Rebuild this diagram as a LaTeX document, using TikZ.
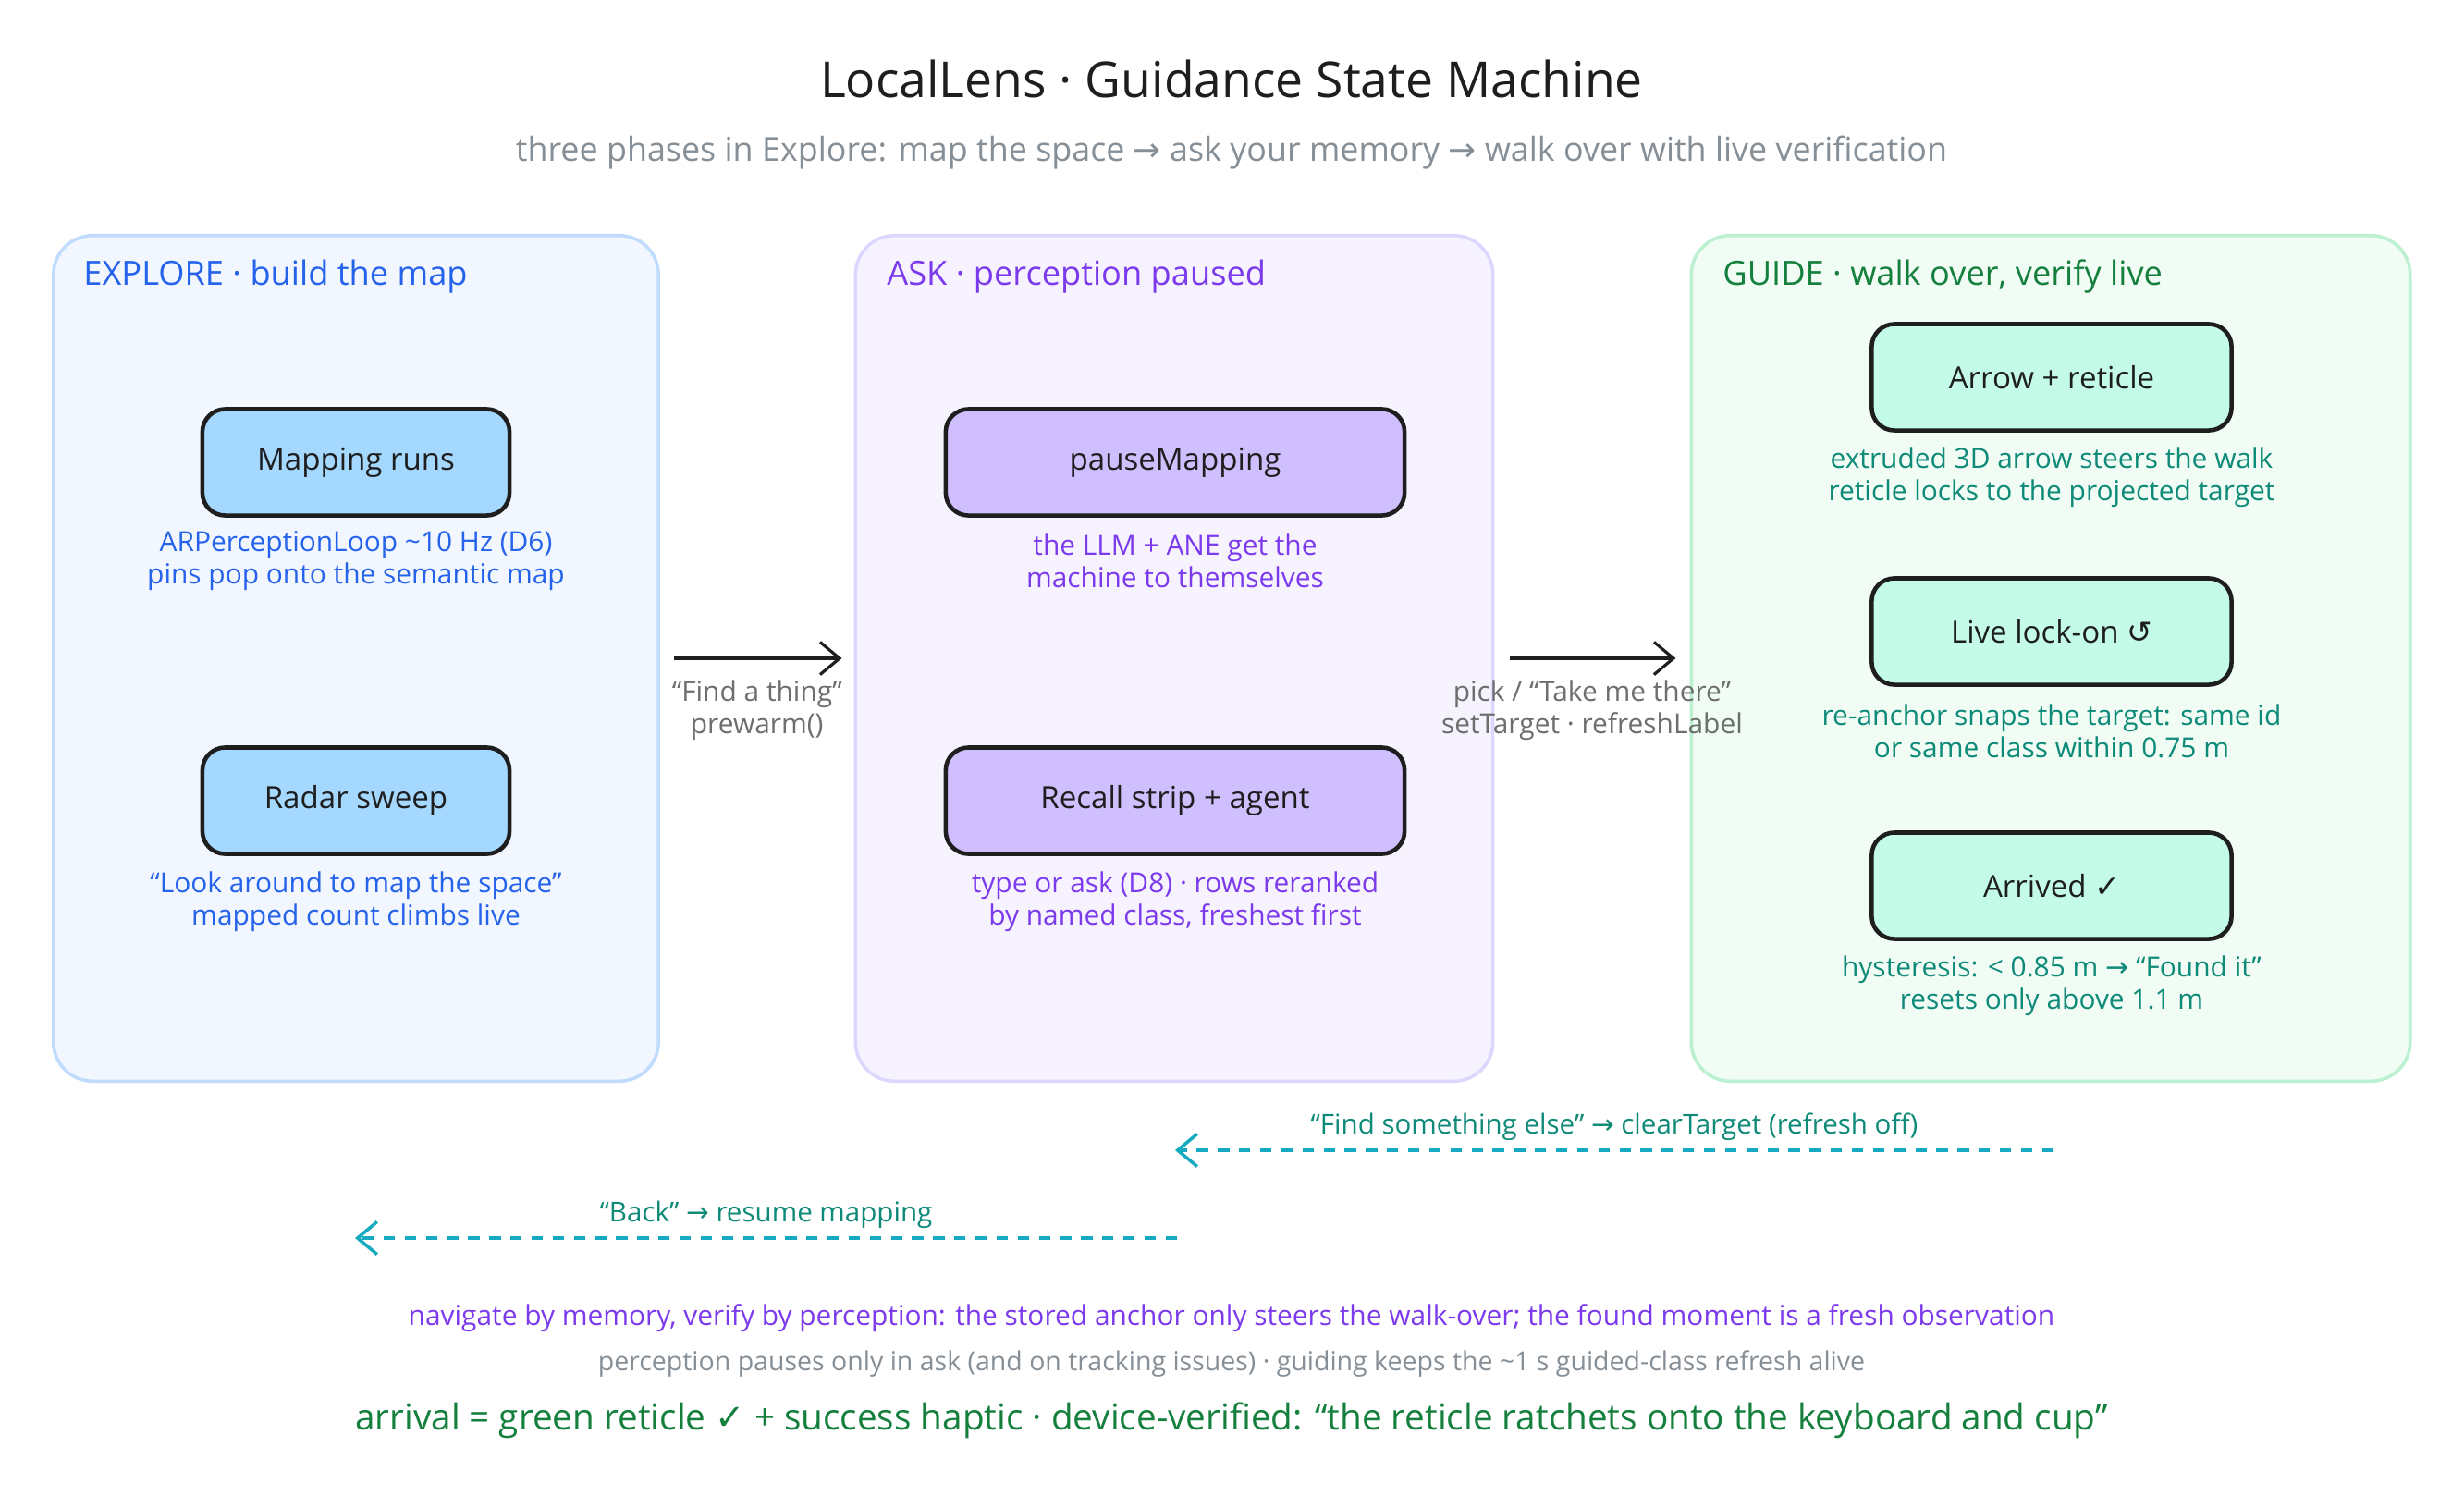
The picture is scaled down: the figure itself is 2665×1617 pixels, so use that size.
\documentclass[tikz,border=0pt]{standalone}
\usepackage{fontspec}
\setmainfont{Open Sans}
\newfontfamily\symf{DejaVu Sans}
\usetikzlibrary{arrows.meta}

\definecolor{ink}{HTML}{1E1E1E}
\definecolor{exFill}{HTML}{F2F6FE}
\definecolor{exLine}{HTML}{BFDBFE}
\definecolor{exText}{HTML}{2563EB}
\definecolor{exNode}{HTML}{A5D8FF}
\definecolor{askFill}{HTML}{F6F3FE}
\definecolor{askLine}{HTML}{DDD6FE}
\definecolor{askText}{HTML}{7C3AED}
\definecolor{askNode}{HTML}{D0BFFF}
\definecolor{guFill}{HTML}{F0FCF4}
\definecolor{guLine}{HTML}{BBF0D0}
\definecolor{guText}{HTML}{15803D}
\definecolor{guNode}{HTML}{C3FAE8}
\definecolor{guNote}{HTML}{0E8A78}
\definecolor{backLine}{HTML}{15AABF}
\definecolor{labGray}{HTML}{6E6E6E}
\definecolor{footGray}{HTML}{868E96}

\tikzset{
  panel/.style={draw=#1, line width=1pt, rounded corners=12pt},
  ptitle/.style={anchor=west, font=\fontsize{10.3}{12}\selectfont},
  state/.style={draw=ink, line width=1.3pt, rounded corners=7pt, text=ink,
    minimum height=1.15cm, font=\fontsize{9.4}{11}\selectfont},
  note/.style={align=center, font=\fontsize{8.5}{10}\selectfont},
  edgelab/.style={align=center, text=labGray, font=\fontsize{8.5}{9.8}\selectfont},
  flow/.style={->, draw=ink, line width=0.9pt},
  back/.style={->, draw=backLine, line width=1pt, dash pattern=on 3.5pt off 3pt},
  backlab/.style={text=guNote, font=\fontsize{8.4}{10}\selectfont}
}

\begin{document}
\begin{tikzpicture}[x=0.01cm, y=-0.01cm, >={Straight Barb[length=6pt,width=10pt]}]
\useasboundingbox[fill=white] (0,0) rectangle (2665,1617);

% Titel
\node[text=ink, font=\fontsize{15.2}{17}\selectfont] (title) at (1332,85) {LocalLens · Guidance State Machine};
\node[text=footGray, font=\fontsize{10.2}{12}\selectfont] (subtitle) at (1332,165)
  {three phases in Explore: map the space {\symf →} ask your memory {\symf →} walk over with live verification};

% Explore
\node[panel=exLine, fill=exFill, minimum width=6.54cm, minimum height=9.14cm] (explore) at (385,712) {};
\node[ptitle, text=exText] (exploreT) at (78,299) {EXPLORE · build the map};
\node[state, fill=exNode, minimum width=3.32cm] (mapping) at (385,500) {Mapping runs};
\node[note, text=exText] (mappingN) at (385,607) {ARPerceptionLoop \textasciitilde10 Hz (D6)\\pins pop onto the semantic map};
\node[state, fill=exNode, minimum width=3.32cm] (radar) at (385,866) {Radar sweep};
\node[note, text=exText] (radarN) at (385,975) {“Look around to map the space”\\mapped count climbs live};

% Ask
\node[panel=askLine, fill=askFill, minimum width=6.89cm, minimum height=9.14cm] (ask) at (1270,712) {};
\node[ptitle, text=askText] (askT) at (947,299) {ASK · perception paused};
\node[state, fill=askNode, minimum width=4.96cm] (pause) at (1271,500) {pauseMapping};
\node[note, text=askText] (pauseN) at (1271,607) {the LLM + ANE get the\\machine to themselves};
\node[state, fill=askNode, minimum width=4.96cm] (recall) at (1271,866) {Recall strip + agent};
\node[note, text=askText] (recallN) at (1271,975) {type or ask (D8) · rows reranked\\by named class, freshest first};

% Guide
\node[panel=guLine, fill=guFill, minimum width=7.77cm, minimum height=9.14cm] (guide) at (2218,712) {};
\node[ptitle, text=guText] (guideT) at (1851,299) {GUIDE · walk over, verify live};
\node[state, fill=guNode, minimum width=3.89cm] (reticle) at (2219,408) {Arrow + reticle};
\node[note, text=guNote] (reticleN) at (2219,516) {extruded 3D arrow steers the walk\\reticle locks to the projected target};
\node[state, fill=guNode, minimum width=3.89cm] (lockon) at (2219,683) {Live lock-on {\symf ↺}};
\node[note, text=guNote] (lockonN) at (2219,791) {re-anchor snaps the target: same id\\or same class within 0.75 m};
\node[state, fill=guNode, minimum width=3.89cm] (arrived) at (2219,958) {Arrived {\symf ✓}};
\node[note, text=guNote] (arrivedN) at (2219,1066) {hysteresis: < 0.85 m {\symf →} “Found it”\\resets only above 1.1 m};

% Vorwaerts
\draw[flow, shorten <=0.15cm, shorten >=0.13cm] (explore.east) -- (ask.west)
  node[midway, below=3pt, edgelab] {“Find a thing”\\prewarm()};
\draw[flow, shorten <=0.17cm, shorten >=0.15cm] (ask.east) -- (guide.west)
  node[midway, below=3pt, edgelab] {pick / “Take me there”\\setTarget · refreshLabel};

% Zurueck
\coordinate (elseFrom) at (2221,1244);
\coordinate (elseTo) at (1271,1244);
\draw[back] (elseFrom) -- (elseTo)
  node[midway, above=-1pt, backlab] {“Find something else” {\symf →} clearTarget (refresh off)};
\coordinate (backFrom) at (1273,1339);
\coordinate (backTo) at (384,1339);
\draw[back] (backFrom) -- (backTo)
  node[midway, above=-1pt, backlab] {“Back” {\symf →} resume mapping};

% Fusszeilen
\node[text=askText, font=\fontsize{8.5}{10}\selectfont] (motto) at (1332,1426)
  {navigate by memory, verify by perception: the stored anchor only steers the walk-over; the found moment is a fresh observation};
\node[text=footGray, font=\fontsize{8.1}{10}\selectfont] (pauses) at (1332,1475)
  {perception pauses only in ask (and on tracking issues) · guiding keeps the \textasciitilde1 s guided-class refresh alive};
\node[text=guText, font=\fontsize{11}{13}\selectfont] (arrival) at (1332,1536)
  {arrival = green reticle {\symf ✓} + success haptic · device-verified: “the reticle ratchets onto the keyboard and cup”};
\end{tikzpicture}
\end{document}
